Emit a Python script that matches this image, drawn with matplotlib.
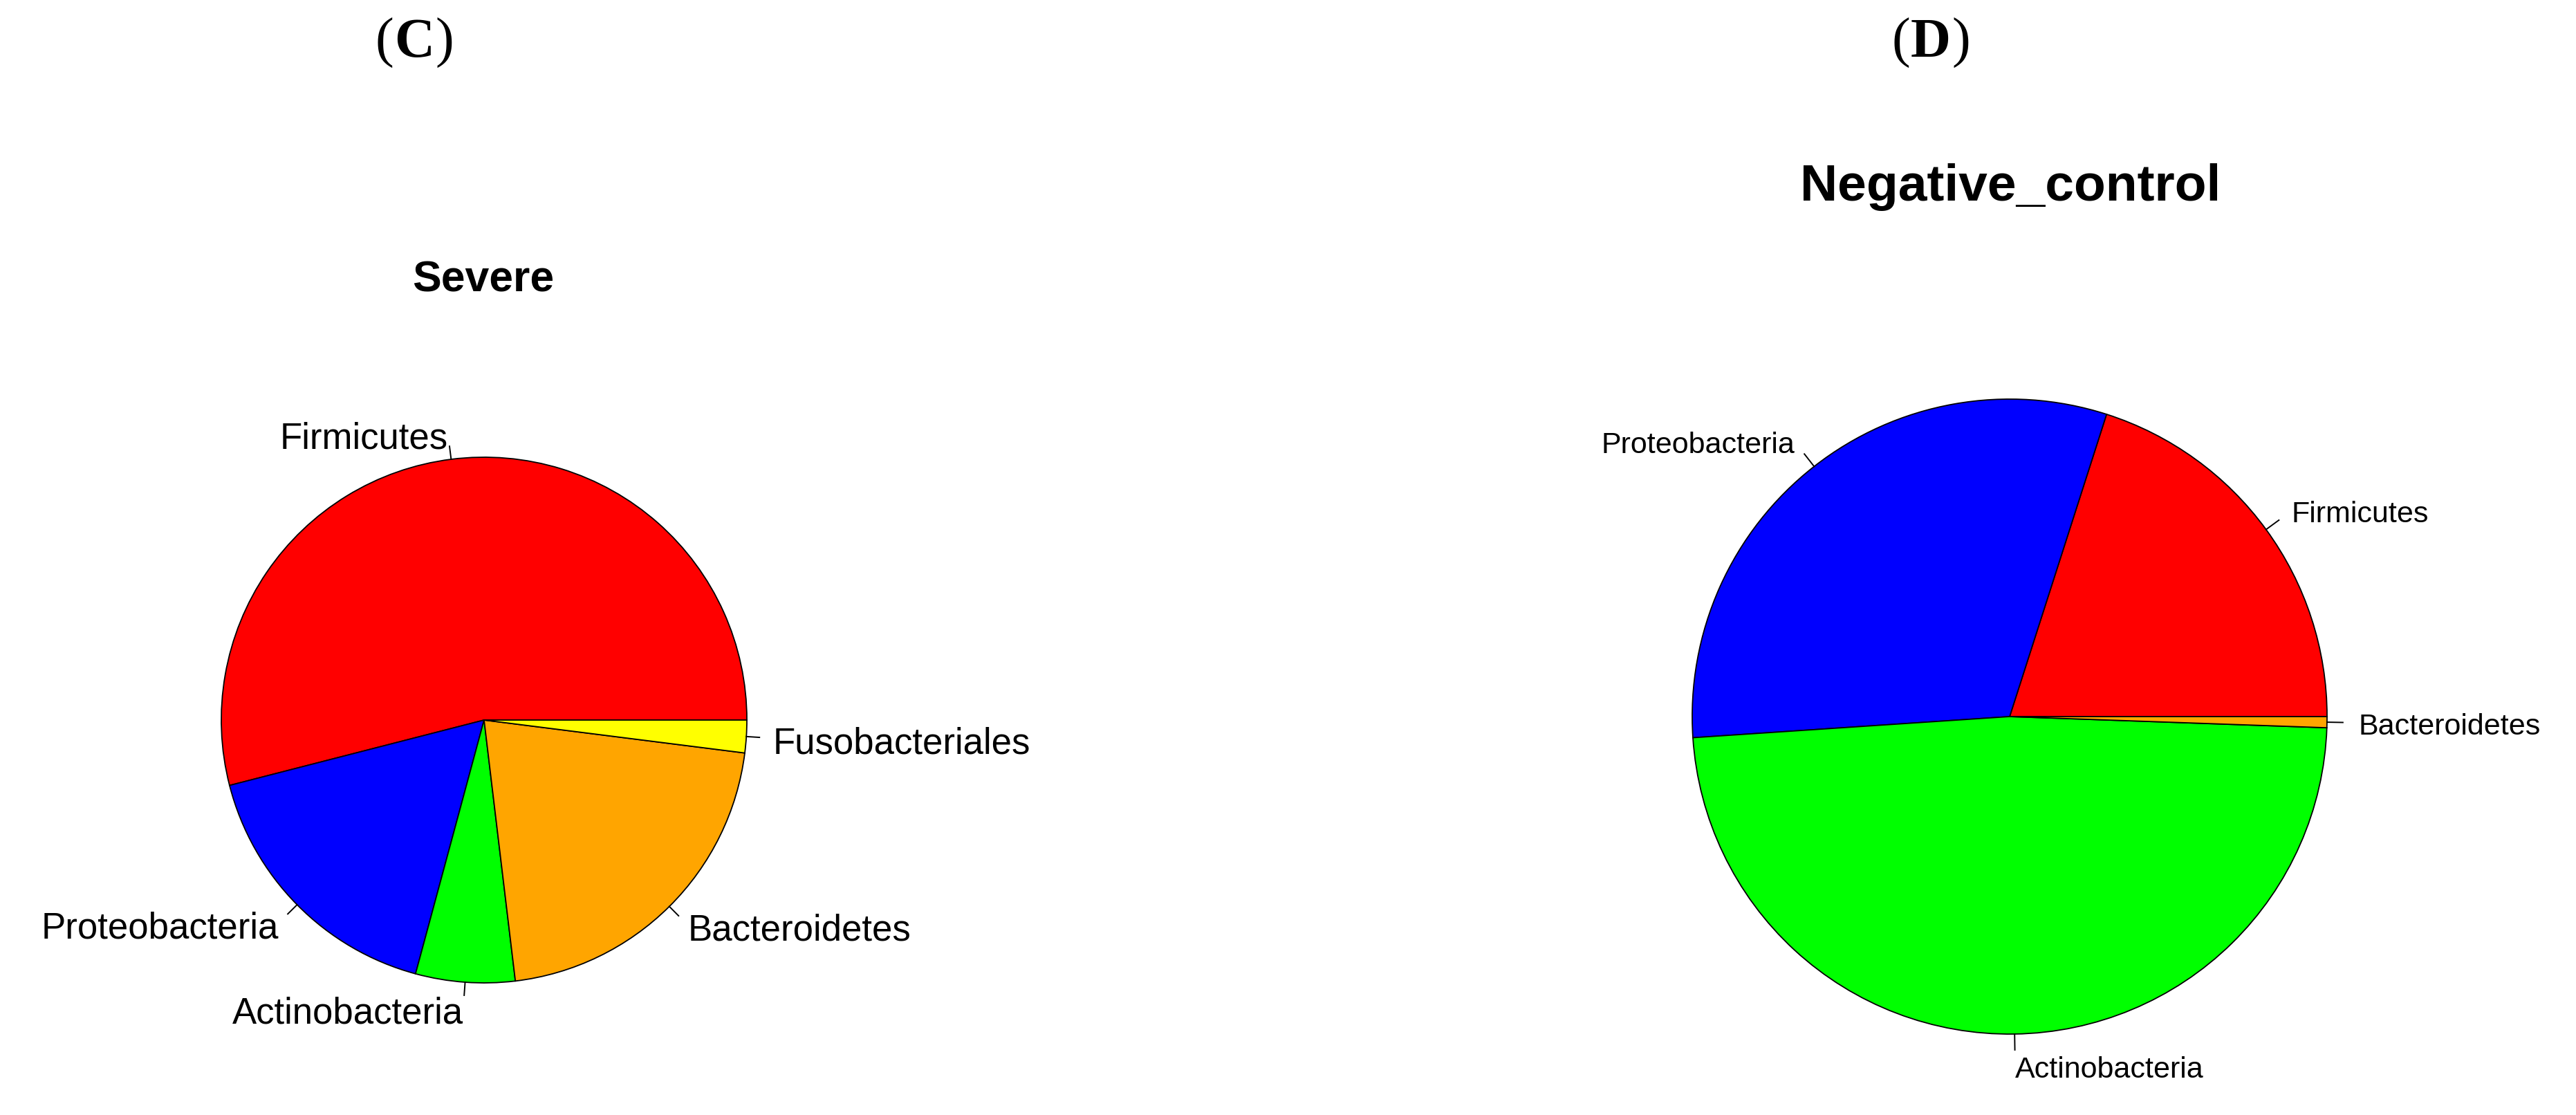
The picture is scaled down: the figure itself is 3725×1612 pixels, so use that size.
import numpy as np
import matplotlib
matplotlib.use("Agg")
import matplotlib.pyplot as plt

# phylum shares (R pie order, counter-clockwise from 3 o'clock)
severe_labels = ["Firmicutes", "Proteobacteria", "Actinobacteria", "Bacteroidetes", "Fusobacteriales"]
severe_values = [0.540, 0.168, 0.061, 0.211, 0.020]
severe_colors = ["#FF0000", "#0000FF", "#00FF00", "#FFA500", "#FFFF00"]

control_labels = ["Firmicutes", "Proteobacteria", "Actinobacteria", "Bacteroidetes"]
control_values = [0.2006, 0.3100, 0.4838, 0.0056]
control_colors = ["#FF0000", "#0000FF", "#00FF00", "#FFA500"]

W, H = 3725, 1612
DPI = 100
SANS = "Liberation Sans"
SERIF = "Liberation Serif"

fig = plt.figure(figsize=(W / DPI, H / DPI), dpi=DPI)


def pie_axes(cx, cy, r):
    # matplotlib pie uses limits of +-1.25, so the box is 2.5 radii wide
    half = 1.25 * r
    return fig.add_axes([(cx - half) / W, (H - cy - half) / H, 2 * half / W, 2 * half / H])


def draw_pie(ax, values, labels, colors, fsize, r_px, drop_px):
    wedges, texts = ax.pie(values, labels=labels, colors=colors, startangle=0,
                           counterclock=True, labeldistance=1.1,
                           wedgeprops=dict(edgecolor="black", linewidth=1.3),
                           textprops=dict(fontsize=fsize, family=SANS))
    for w in wedges:
        mid = np.deg2rad((w.theta1 + w.theta2) / 2)
        ax.plot([np.cos(mid), 1.05 * np.cos(mid)], [np.sin(mid), 1.05 * np.sin(mid)],
                color="black", lw=1.4, clip_on=False)
    # R centres its labels a little lower than matplotlib does
    for t in texts:
        x, y = t.get_position()
        t.set_position((x, y - drop_px / r_px))
        t.set_clip_on(False)


ax1 = pie_axes(700, 1041, 380)
draw_pie(ax1, severe_values, severe_labels, severe_colors, 38, 380, 8)

ax2 = pie_axes(2906, 1036, 459)
draw_pie(ax2, control_values, control_labels, control_colors, 31, 459, 6)

# pie titles
fig.text(699 / W, 1 - 422 / H, "Severe", ha="center", va="baseline",
         fontsize=45, fontweight="bold", family=SANS)
fig.text(2907 / W, 1 - 290 / H, "Negative_control", ha="center", va="baseline",
         fontsize=54, fontweight="bold", family=SANS)

# panel letters: plain parentheses, bold letter
def panel(cx, letter):
    base = 1 - 82 / H
    fig.text(cx / W, base, letter, ha="center", va="baseline",
             fontsize=58, fontweight="bold", family=SERIF)
    fig.text((cx - 30) / W, base, "(", ha="right", va="baseline", fontsize=58, family=SERIF)
    fig.text((cx + 30) / W, base, ")", ha="left", va="baseline", fontsize=58, family=SERIF)


panel(599, "C")
panel(2792, "D")

fig.savefig("out.png", dpi=DPI, facecolor="white")
